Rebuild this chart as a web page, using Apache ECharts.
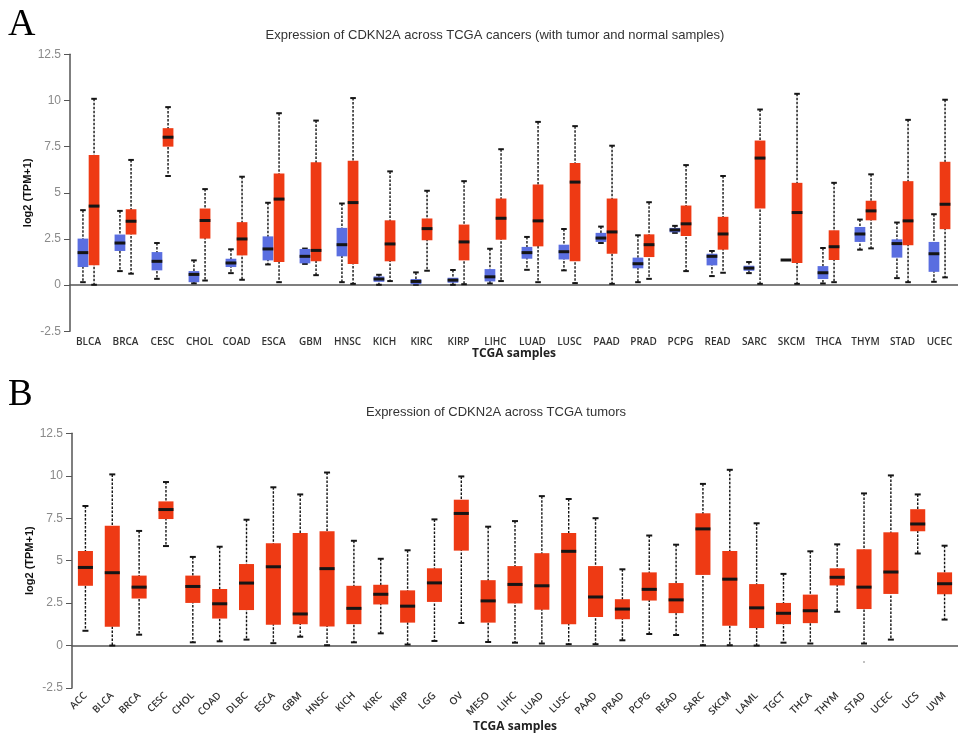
<!DOCTYPE html>
<html>
<head>
<meta charset="utf-8">
<script src="https://cdn.jsdelivr.net/npm/echarts@6/dist/echarts.min.js"></script>
<style>
  html, body { margin: 0; padding: 0; background: #fff; }
  #chart { width: 958px; height: 734px; }
</style>
</head>
<body>
<div id="chart"></div>
<script>
// panel A: tumor vs normal, [min, q1, median, q3, max]
var cancersA = ['BLCA', 'BRCA', 'CESC', 'CHOL', 'COAD', 'ESCA', 'GBM', 'HNSC', 'KICH', 'KIRC', 'KIRP', 'LIHC',
  'LUAD', 'LUSC', 'PAAD', 'PRAD', 'PCPG', 'READ', 'SARC', 'SKCM', 'THCA', 'THYM', 'STAD', 'UCEC'];
var normalA = [
  [0.16, 0.98, 1.76, 2.52, 4.06], [0.76, 1.85, 2.28, 2.74, 4.02], [0.34, 0.80, 1.29, 1.79, 2.28],
  [0.10, 0.16, 0.58, 0.76, 1.34], [0.65, 0.98, 1.20, 1.43, 1.94], [1.12, 1.34, 1.96, 2.64, 4.46],
  [1.15, 1.18, 1.56, 1.96, 1.98], [0.16, 1.56, 2.19, 3.10, 4.42], [0.02, 0.18, 0.33, 0.47, 0.56],
  [0.02, 0.05, 0.20, 0.33, 0.69], [0.02, 0.13, 0.27, 0.40, 0.82], [0.09, 0.20, 0.45, 0.87, 1.97],
  [0.83, 1.43, 1.76, 2.07, 2.61], [0.80, 1.39, 1.81, 2.19, 3.04], [2.28, 2.34, 2.55, 2.83, 3.17],
  [0.16, 0.91, 1.16, 1.49, 2.70], [2.83, 2.86, 2.99, 3.10, 3.21], [0.49, 1.07, 1.56, 1.70, 1.85],
  [0.65, 0.78, 0.92, 1.05, 1.25], [1.36, 1.36, 1.36, 1.36, 1.36], [0.09, 0.33, 0.67, 1.03, 2.01],
  [1.92, 2.34, 2.77, 3.15, 3.55], [0.38, 1.49, 2.25, 2.48, 3.39], [0.18, 0.72, 1.70, 2.34, 3.84]
];
var tumorA = [
  [0.02, 1.07, 4.28, 7.05, 10.09], [0.62, 2.74, 3.46, 4.11, 6.78], [5.91, 7.50, 8.01, 8.50, 9.64],
  [0.25, 2.52, 3.50, 4.15, 5.20], [0.29, 1.61, 2.50, 3.41, 5.87], [0.16, 1.25, 4.66, 6.05, 9.31],
  [0.54, 1.30, 1.88, 6.65, 8.91], [0.07, 1.14, 4.47, 6.74, 10.13], [0.22, 1.29, 2.23, 3.51, 6.16],
  [0.78, 2.43, 3.06, 3.61, 5.11], [0.05, 1.34, 2.34, 3.28, 5.63], [0.22, 2.46, 3.62, 4.69, 7.36],
  [0.16, 2.10, 3.48, 5.45, 8.84], [0.11, 1.29, 5.58, 6.61, 8.61], [0.07, 1.70, 2.88, 4.69, 7.55],
  [0.34, 1.52, 2.19, 2.75, 4.49], [0.76, 2.66, 3.32, 4.31, 6.50], [0.67, 1.92, 2.77, 3.70, 5.91],
  [0.07, 4.15, 6.88, 7.83, 9.51], [0.07, 1.20, 3.93, 5.54, 10.36], [0.16, 1.36, 2.08, 2.97, 5.54],
  [1.99, 3.51, 4.02, 4.57, 6.00], [0.16, 2.16, 3.48, 5.63, 8.95], [0.42, 3.03, 4.38, 6.68, 10.04]
];

// panel B: tumors only
var cancersB = ['ACC', 'BLCA', 'BRCA', 'CESC', 'CHOL', 'COAD', 'DLBC', 'ESCA', 'GBM', 'HNSC', 'KICH', 'KIRC',
  'KIRP', 'LGG', 'OV', 'MESO', 'LIHC', 'LUAD', 'LUSC', 'PAAD', 'PRAD', 'PCPG', 'READ', 'SARC', 'SKCM',
  'LAML', 'TGCT', 'THCA', 'THYM', 'STAD', 'UCEC', 'UCS', 'UVM'];
var tumorB = [
  [0.87, 3.52, 4.60, 5.57, 8.22], [0.00, 1.10, 4.29, 7.06, 10.08], [0.64, 2.77, 3.44, 4.12, 6.75],
  [5.86, 7.45, 8.01, 8.49, 9.63], [0.19, 2.51, 3.48, 4.12, 5.22], [0.25, 1.59, 2.46, 3.33, 5.82],
  [0.35, 2.09, 3.68, 4.80, 7.41], [0.14, 1.22, 4.64, 6.03, 9.32], [0.52, 1.26, 1.86, 6.63, 8.90],
  [0.02, 1.12, 4.53, 6.73, 10.19], [0.19, 1.26, 2.19, 3.52, 6.17], [0.72, 2.42, 3.02, 3.58, 5.11],
  [0.06, 1.35, 2.32, 3.25, 5.61], [0.27, 2.57, 3.69, 4.55, 7.43], [1.33, 5.59, 7.78, 8.59, 9.96],
  [0.21, 1.35, 2.63, 3.85, 7.00], [0.17, 2.48, 3.60, 4.68, 7.33], [0.12, 2.11, 3.52, 5.44, 8.80],
  [0.08, 1.26, 5.55, 6.63, 8.63], [0.08, 1.68, 2.86, 4.68, 7.50], [0.31, 1.55, 2.15, 2.73, 4.49],
  [0.68, 2.65, 3.31, 4.31, 6.48], [0.62, 1.91, 2.69, 3.68, 5.94], [0.02, 4.16, 6.87, 7.79, 9.52],
  [0.02, 1.16, 3.91, 5.57, 10.35], [0.00, 1.03, 2.22, 3.62, 7.20], [0.17, 1.26, 1.90, 2.51, 4.22],
  [0.12, 1.32, 2.05, 3.00, 5.55], [1.99, 3.54, 4.02, 4.55, 5.96], [0.12, 2.15, 3.44, 5.67, 8.96],
  [0.35, 3.04, 4.33, 6.67, 10.02], [5.42, 6.73, 7.16, 8.03, 8.90], [1.53, 3.02, 3.64, 4.31, 5.88]
];
var outliersB = [['STAD', -0.97]];

var yMin = -2.5, yMax = 12.5, yStep = 2.5;

var red = '#ee3a14';
var blue = '#5a6ee0';

function withIndex(list) {
  return list.map(function (v, i) { return [i].concat(v); });
}

// draws one box: dashed whisker, caps, filled box, median bar
function boxRenderer(color, shift, widthRatio, capHalf) {
  return function (params, api) {
    var i = api.value(0);
    var band = api.size([1, 0])[0];
    var x = api.coord([i, 0])[0] + shift * band;
    var w = band * widthRatio;
    var yMinP = api.coord([i, api.value(1)])[1];
    var yQ1 = api.coord([i, api.value(2)])[1];
    var yMed = api.coord([i, api.value(3)])[1];
    var yQ3 = api.coord([i, api.value(4)])[1];
    var yMaxP = api.coord([i, api.value(5)])[1];
    var ink = '#151515';
    return {
      type: 'group',
      children: [
        { type: 'line', shape: { x1: x, y1: yMaxP, x2: x, y2: yMinP },
          style: { stroke: ink, lineWidth: 1.4, lineDash: [2.5, 1.5] } },
        { type: 'line', shape: { x1: x - capHalf, y1: yMaxP, x2: x + capHalf, y2: yMaxP },
          style: { stroke: ink, lineWidth: 2 } },
        { type: 'line', shape: { x1: x - capHalf, y1: yMinP, x2: x + capHalf, y2: yMinP },
          style: { stroke: ink, lineWidth: 2 } },
        { type: 'rect', shape: { x: x - w / 2, y: yQ3, width: w, height: yQ1 - yQ3 },
          style: { fill: color } },
        { type: 'line', shape: { x1: x - w / 2, y1: yMed, x2: x + w / 2, y2: yMed },
          style: { stroke: ink, lineWidth: 3 } }
      ]
    };
  };
}

function yAxisFor(gridIndex) {
  return {
    type: 'value', gridIndex: gridIndex, min: yMin, max: yMax, interval: yStep,
    name: 'log2 (TPM+1)', nameLocation: 'middle', nameGap: 37, nameMoveOverlap: false,
    nameTextStyle: { fontFamily: 'Liberation Sans', fontWeight: 'bold', fontSize: 11, color: '#111' },
    axisLine: { show: true, lineStyle: { color: '#555', width: 1.5 } },
    axisTick: { show: true, length: 6, lineStyle: { color: '#555' } },
    axisLabel: { margin: 9, fontFamily: 'Liberation Sans', fontSize: 12, color: '#8a8a8a' },
    splitLine: { show: false }
  };
}

var chart = echarts.init(document.getElementById('chart'));
chart.setOption({
  backgroundColor: '#fff',
  animation: false,
  title: [
    { text: 'Expression of CDKN2A across TCGA cancers (with tumor and normal samples)',
      left: 490, top: 24, textAlign: 'center',
      textStyle: { fontFamily: 'Liberation Sans', fontSize: 13, fontWeight: 'normal', color: '#333' } },
    { text: 'Expression of CDKN2A across TCGA tumors',
      left: 491, top: 401, textAlign: 'center',
      textStyle: { fontFamily: 'Liberation Sans', fontSize: 13, fontWeight: 'normal', color: '#333' } }
  ],
  graphic: [
    { type: 'text', left: 8, top: 6,
      style: { text: 'A', font: '38px "Liberation Serif"', fill: '#000' } },
    { type: 'text', left: 8, top: 377,
      style: { text: 'B', font: '37px "Liberation Serif"', fill: '#000' } }
  ],
  grid: [
    { left: 70, top: 54.3, width: 888, height: 277 },
    { left: 72, top: 433.3, width: 888, height: 258.4 }
  ],
  xAxis: [
    { type: 'category', gridIndex: 0, data: cancersA,
      name: 'TCGA samples', nameLocation: 'middle', nameGap: 16, nameMoveOverlap: false,
      nameTextStyle: { fontFamily: 'Open Sans', fontWeight: 'bold', fontSize: 12, color: '#222' },
      axisLine: { lineStyle: { color: '#555', width: 1.5 } },
      axisTick: { length: 5, lineStyle: { color: '#ccc' } },
      axisLabel: { margin: 6, interval: 0, fontFamily: 'Open Sans', fontWeight: 600, fontSize: 10, color: '#333' } },
    { type: 'category', gridIndex: 1, data: cancersB,
      name: 'TCGA samples', nameLocation: 'middle', nameGap: 33, nameMoveOverlap: false,
      nameTextStyle: { fontFamily: 'Open Sans', fontWeight: 'bold', fontSize: 12, color: '#222' },
      axisLine: { lineStyle: { color: '#555', width: 1.5 } },
      axisTick: { length: 7, lineStyle: { color: '#ccc' } },
      axisLabel: { margin: 6, interval: 0, rotate: 45, fontFamily: 'Open Sans', fontWeight: 600, fontSize: 10, color: '#333' } }
  ],
  yAxis: [yAxisFor(0), yAxisFor(1)],
  series: [
    { name: 'normal', type: 'custom', xAxisIndex: 0, yAxisIndex: 0,
      renderItem: boxRenderer(blue, -0.15, 0.29, 2.8),
      encode: { x: 0, y: [1, 2, 3, 4, 5] }, data: withIndex(normalA) },
    { name: 'tumor', type: 'custom', xAxisIndex: 0, yAxisIndex: 0,
      renderItem: boxRenderer(red, 0.15, 0.29, 2.8),
      encode: { x: 0, y: [1, 2, 3, 4, 5] }, data: withIndex(tumorA) },
    { name: 'tumor only', type: 'custom', xAxisIndex: 1, yAxisIndex: 1,
      renderItem: boxRenderer(red, 0, 0.56, 3),
      encode: { x: 0, y: [1, 2, 3, 4, 5] }, data: withIndex(tumorB) },
    { name: 'outlier', type: 'scatter', xAxisIndex: 1, yAxisIndex: 1,
      symbolSize: 2, itemStyle: { color: '#999' }, data: outliersB }
  ]
});
window.addEventListener('resize', function () {
  chart.resize();
});
</script>
</body>
</html>
